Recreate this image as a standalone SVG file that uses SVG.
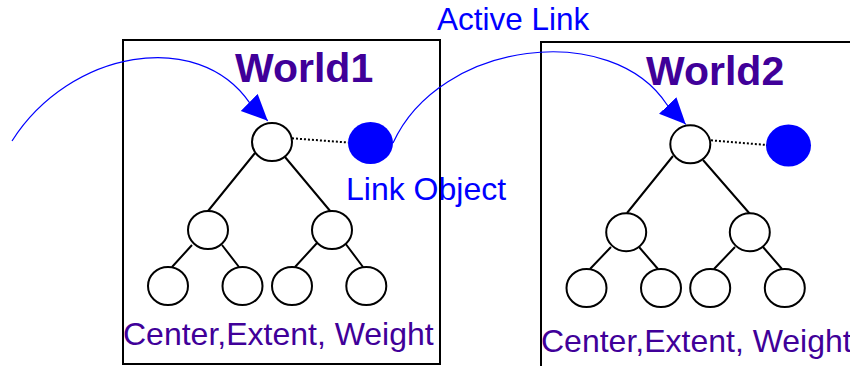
<svg xmlns="http://www.w3.org/2000/svg" width="850" height="366" viewBox="0 0 850 366">
<defs>
<marker id="arr" markerUnits="userSpaceOnUse" markerWidth="27" markerHeight="25" refX="26" refY="12" orient="auto">
<path d="M0,0 L26,12 L0,24 z" fill="#0000ff"/>
</marker>
<style>
.box{fill:none;stroke:#000;stroke-width:2}
.nd{fill:#fff;stroke:#000;stroke-width:2}
.edge{stroke:#000;stroke-width:2;fill:none}
.dot{stroke:#000;stroke-width:2;stroke-dasharray:2,2;fill:none}
.link{fill:#0000ff}
.curve{fill:none;stroke:#0000ff;stroke-width:1.2}
.title{font-family:"Liberation Sans",Arial,sans-serif;font-weight:bold;font-size:41px;fill:#400099}
.lbl{font-family:"Liberation Sans",Arial,sans-serif;font-size:32px;fill:#400099}
.blue{font-family:"Liberation Sans",Arial,sans-serif;font-size:32px;fill:#0000ff}
</style>
</defs>
<rect width="850" height="366" fill="#fff"/>
<g id="link-object">
<ellipse class="link" cx="370.5" cy="143" rx="22.5" ry="21"/>
<text class="blue" x="346" y="200">Link Object</text>
</g>
<g id="world1">
<rect class="box" x="123" y="40" width="317" height="324"/>
<text class="title" x="235" y="82">World1</text>
<text class="lbl" x="123" y="345">Center,Extent, Weight</text>
</g>
<g id="world2">
<rect class="box" x="541" y="42" width="330" height="340"/>
<text class="title" x="646" y="85">World2</text>
<text class="lbl" x="541" y="352">Center,Extent, Weight</text>
</g>
<g id="link-object-2">
<ellipse class="link" cx="788.5" cy="145.5" rx="22.5" ry="21"/>
</g>
<g id="active-link-label">
<text class="blue" x="437" y="30" style="font-size:31.5px">Active Link</text>
</g>
<g id="connectors">
<path class="edge" d="M255,153 L208,211 M285,157 L331,212 M192,245 L172,267 M222,245 L239,267 M317,243 L295,267 M345,243 L363,267"/>
<path class="edge" d="M673,156 L627,213 M703,160 L750,214 M611,247 L590,269 M639,247 L658,269 M735,247 L714,269 M763,247 L782,269"/>
<path class="dot" d="M288,138 L348,142.5"/>
<path class="dot" d="M707,140 L767,145"/>
<path class="curve" marker-end="url(#arr)" d="M12,141 C70,50 198,28 249.5,102.7 L267.7,120.7"/>
<path class="curve" marker-end="url(#arr)" d="M393,143 C440,40 612,20 667.2,105 L685.7,124.3"/>
</g>
<g id="w1-root"><ellipse class="nd" cx="272" cy="142" rx="20" ry="19"/></g>
<g id="w1-n1"><ellipse class="nd" cx="208" cy="230" rx="20" ry="19"/></g>
<g id="w1-n2"><ellipse class="nd" cx="332" cy="230" rx="20" ry="19"/></g>
<g id="w1-n3"><ellipse class="nd" cx="168" cy="286" rx="20" ry="19"/></g>
<g id="w1-n4"><ellipse class="nd" cx="242.5" cy="286" rx="20" ry="19"/></g>
<g id="w1-n5"><ellipse class="nd" cx="292" cy="286" rx="20" ry="19"/></g>
<g id="w1-n6"><ellipse class="nd" cx="366.3" cy="286" rx="20" ry="19"/></g>
<g id="w2-root"><ellipse class="nd" cx="690.3" cy="144.3" rx="20" ry="19"/></g>
<g id="w2-n1"><ellipse class="nd" cx="626.2" cy="232.2" rx="20" ry="19"/></g>
<g id="w2-n2"><ellipse class="nd" cx="749.8" cy="232.2" rx="20" ry="19"/></g>
<g id="w2-n3"><ellipse class="nd" cx="586.5" cy="288" rx="20" ry="19"/></g>
<g id="w2-n4"><ellipse class="nd" cx="661" cy="288" rx="20" ry="19"/></g>
<g id="w2-n5"><ellipse class="nd" cx="710.2" cy="288" rx="20" ry="19"/></g>
<g id="w2-n6"><ellipse class="nd" cx="784.8" cy="288" rx="20" ry="19"/></g>
</svg>
